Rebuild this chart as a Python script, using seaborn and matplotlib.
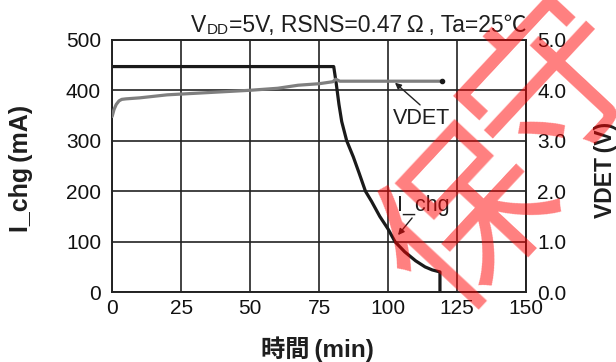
import matplotlib
matplotlib.use("Agg")
import matplotlib.pyplot as plt
import seaborn as sns
import pandas as pd

# ---- data ----
ichg_time = [0, 80.3, 81.2, 82.2, 83.2, 85.0, 87.4, 89.5, 91.8, 94.0, 97.0, 100.0,
             102.5, 106.0, 110.0, 113.4, 116.0, 118.8, 118.8]
ichg_ma = [447, 447, 414, 372, 338, 300, 268, 236, 200, 180, 150, 125,
           100, 80, 62, 50, 44, 40, 0]

vdet_time = [0, 0.7, 1.5, 2.5, 3.5, 5, 10, 20, 30, 40, 50, 60, 67.4, 75, 80, 81.0,
             82.5, 90, 100, 110, 119.4]
vdet_v = [3.48, 3.62, 3.72, 3.79, 3.82, 3.83, 3.85, 3.91, 3.94, 3.97, 4.00, 4.04,
          4.10, 4.13, 4.17, 4.22, 4.18, 4.18, 4.18, 4.18, 4.18]

x_ticks = [0, 25, 50, 75, 100, 125, 150]
y_ticks = [0, 100, 200, 300, 400, 500]
y2_ticks = [0.0, 1.0, 2.0, 3.0, 4.0, 5.0]

title_main = "=5V, RSNS=0.47\u2009Ω\u2009, Ta=25℃"
title_v = "V"
title_sub = "DD"
watermark_chars = ["保", "守"]

sns.set_style("white")
plt.rcParams['font.family'] = ['Liberation Sans', 'Noto Sans CJK JP', 'DejaVu Sans']

TXT = "#1e1e1e"
fig = plt.figure(figsize=(6.16, 3.62), dpi=100)
ax = fig.add_axes([0.182, 0.193, 0.672, 0.697])
ax2 = ax.twinx()

df_i = pd.DataFrame({"t": ichg_time, "i": ichg_ma})
df_v = pd.DataFrame({"t": vdet_time, "v": vdet_v})

sns.lineplot(data=df_i, x="t", y="i", ax=ax, color="#1a1a1a", lw=2.3, sort=False,
             estimator=None, zorder=5)
sns.lineplot(data=df_v, x="t", y="v", ax=ax2, color="#7f7f7f", lw=2.3, sort=False,
             estimator=None, zorder=4)
ax2.plot([vdet_time[-1]], [vdet_v[-1]], 'o', color="#1a1a1a", ms=3, zorder=6)

ax.set_xlim(0, 150)
ax.set_ylim(0, 500)
ax2.set_ylim(0, 5)
ax.set_xticks(x_ticks)
ax.set_yticks(y_ticks)
ax2.set_yticks(y2_ticks)
ax2.set_yticklabels([f"{v:.1f}" for v in y2_ticks])

ax.grid(True, color="#222222", lw=1.2)
ax.set_axisbelow(True)
for a in (ax, ax2):
    for s in a.spines.values():
        s.set_color("#222222")
        s.set_linewidth(1.2)
ax.tick_params(axis='both', length=0, labelsize=15, colors="#111111")
ax.tick_params(axis='x', pad=5)
ax.tick_params(axis='y', pad=8)
ax2.tick_params(axis='y', length=0, labelsize=15, colors="#111111", pad=8)

ax.set_xlabel("時間\u2009(min)", fontsize=17.5, fontweight='bold', color=TXT)
ax.set_ylabel("I_chg\u2009(mA)", fontsize=18, fontweight='bold', color=TXT)
ax2.set_ylabel("VDET\u2009(V)", fontsize=16.5, fontweight='bold', color=TXT)
ax.xaxis.set_label_coords(0.495, -0.175)
ax.yaxis.set_label_coords(-0.19, 0.49)
ax2.yaxis.set_label_coords(1.163, 0.485)

# title pieces (V with small DD, then the rest)
main = ax.text(1.0, 1.032, title_main, transform=ax.transAxes, ha='right',
               va='baseline', fontsize=16.5, color=TXT)
sub = ax.annotate(title_sub, xy=(0, 0), xycoords=main, ha='right', va='bottom',
                  fontsize=11, color=TXT)
ax.annotate(title_v, xy=(0, 0), xycoords=(sub, main), ha='right', va='bottom',
            fontsize=16.5, color=TXT)

# annotations
arrow = dict(arrowstyle='-|>', color="#222222", lw=1, shrinkA=0, shrinkB=0,
             mutation_scale=9)
ax2.annotate("", xy=(102.5, 4.15), xytext=(111.6, 3.71), arrowprops=arrow)
ax2.text(112.0, 3.44, "VDET", ha='center', va='center', fontsize=15.5, color=TXT)
ax.annotate("", xy=(103.6, 113), xytext=(108.7, 147), arrowprops=arrow)
ax.text(112.7, 172, "I_chg", ha='center', va='center', fontsize=15.5, color=TXT)

# watermark (two rotated characters)
wm = dict(fontsize=122, color=(1, 0, 0, 0.5), rotation=47, ha='center',
          va='center', family=['Noto Sans CJK JP'], zorder=20)
fig.text(470 / 616, 1 - 224 / 362, watermark_chars[0], **wm)
fig.text(553 / 616, 1 - 88 / 362, watermark_chars[1], **wm)

fig.savefig("out.png", dpi=100)
